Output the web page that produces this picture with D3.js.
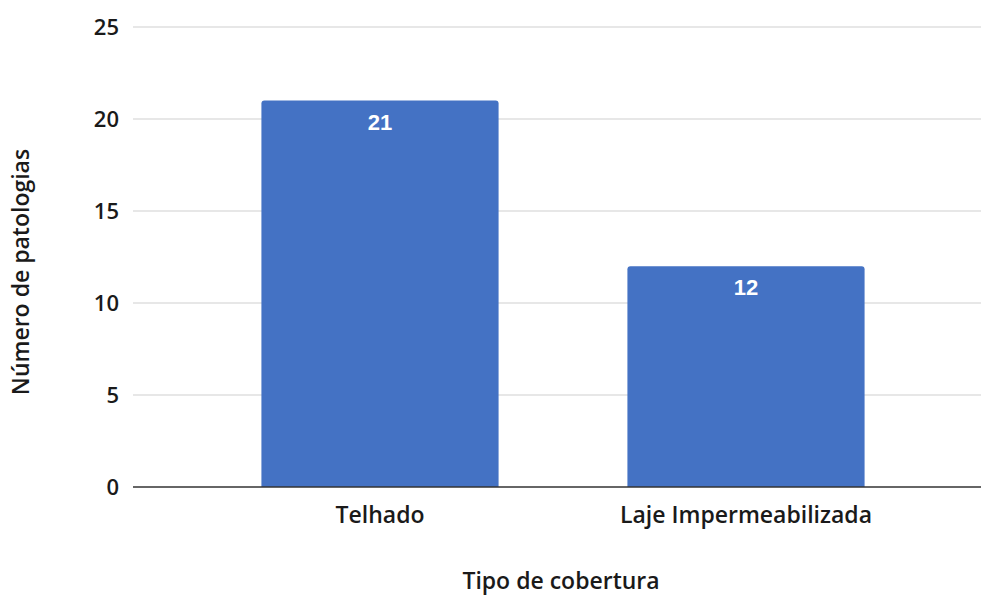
<!DOCTYPE html>
<html>
<head>
    <script src="https://d3js.org/d3.v7.min.js"></script>
    <style>
        body { margin: 0; background: white; }
        .tick-label { font-family: 'Open Sans', sans-serif; font-weight: 600; font-size: 22px; fill: #1a1a1a; }
        .cat-label { font-family: 'Open Sans', sans-serif; font-weight: 600; font-size: 23px; fill: #1a1a1a; }
        .axis-title { font-family: 'Open Sans', sans-serif; font-weight: 600; font-size: 23px; fill: #1a1a1a; }
        .bar-label { font-family: 'Liberation Sans', Arial, sans-serif; font-weight: bold; font-size: 22px; fill: white; }
    </style>
</head>
<body>
    <svg width="981" height="596"></svg>
    <script>
        const categories = ["Telhado", "Laje Impermeabilizada"];
        const values = [21, 12];
        const yTicks = [0, 5, 10, 15, 20, 25];

        const svg = d3.select("svg");

        const y = d3.scaleLinear().domain([0, 25]).range([487, 27]);
        const x = d3.scaleBand()
            .domain(categories)
            .range([197, 929])
            .paddingInner(0.352)
            .paddingOuter(0.176);

        // Gridlines
        svg.append("g").selectAll("line")
            .data(yTicks.filter(t => t > 0))
            .enter().append("line")
            .attr("x1", 133).attr("x2", 981)
            .attr("y1", d => y(d)).attr("y2", d => y(d))
            .attr("stroke", "#cfcfcf").attr("stroke-width", 1);

        // Y tick labels
        svg.append("g").selectAll("text")
            .data(yTicks)
            .enter().append("text")
            .attr("class", "tick-label")
            .attr("x", 119)
            .attr("y", d => y(d))
            .attr("dy", "0.36em")
            .attr("text-anchor", "end")
            .text(d => d);

        // Bars with rounded top corners
        const r = 3;
        svg.append("g").selectAll("path")
            .data(values)
            .enter().append("path")
            .attr("fill", "#4472c4")
            .attr("d", (d, i) => {
                const x0 = x(categories[i]), w = x.bandwidth();
                const top = y(d), bot = y(0);
                return `M${x0},${bot}V${top + r}Q${x0},${top} ${x0 + r},${top}H${x0 + w - r}Q${x0 + w},${top} ${x0 + w},${top + r}V${bot}Z`;
            });

        // Bar value labels
        svg.append("g").selectAll("text")
            .data(values)
            .enter().append("text")
            .attr("class", "bar-label")
            .attr("x", (d, i) => x(categories[i]) + x.bandwidth() / 2)
            .attr("y", d => y(d) + 29)
            .attr("text-anchor", "middle")
            .text(d => d);

        // Baseline
        svg.append("line")
            .attr("x1", 133).attr("x2", 981)
            .attr("y1", y(0)).attr("y2", y(0))
            .attr("stroke", "#333").attr("stroke-width", 1.5);

        // Category labels
        svg.append("g").selectAll("text")
            .data(categories)
            .enter().append("text")
            .attr("class", "cat-label")
            .attr("x", d => x(d) + x.bandwidth() / 2)
            .attr("y", 523)
            .attr("text-anchor", "middle")
            .text(d => d);

        // Axis titles
        svg.append("text")
            .attr("class", "axis-title")
            .attr("x", 561).attr("y", 589)
            .attr("text-anchor", "middle")
            .text("Tipo de cobertura");

        svg.append("text")
            .attr("class", "axis-title")
            .attr("transform", "translate(29,272) rotate(-90)")
            .attr("text-anchor", "middle")
            .text("Número de patologias");
    </script>
</body>
</html>
